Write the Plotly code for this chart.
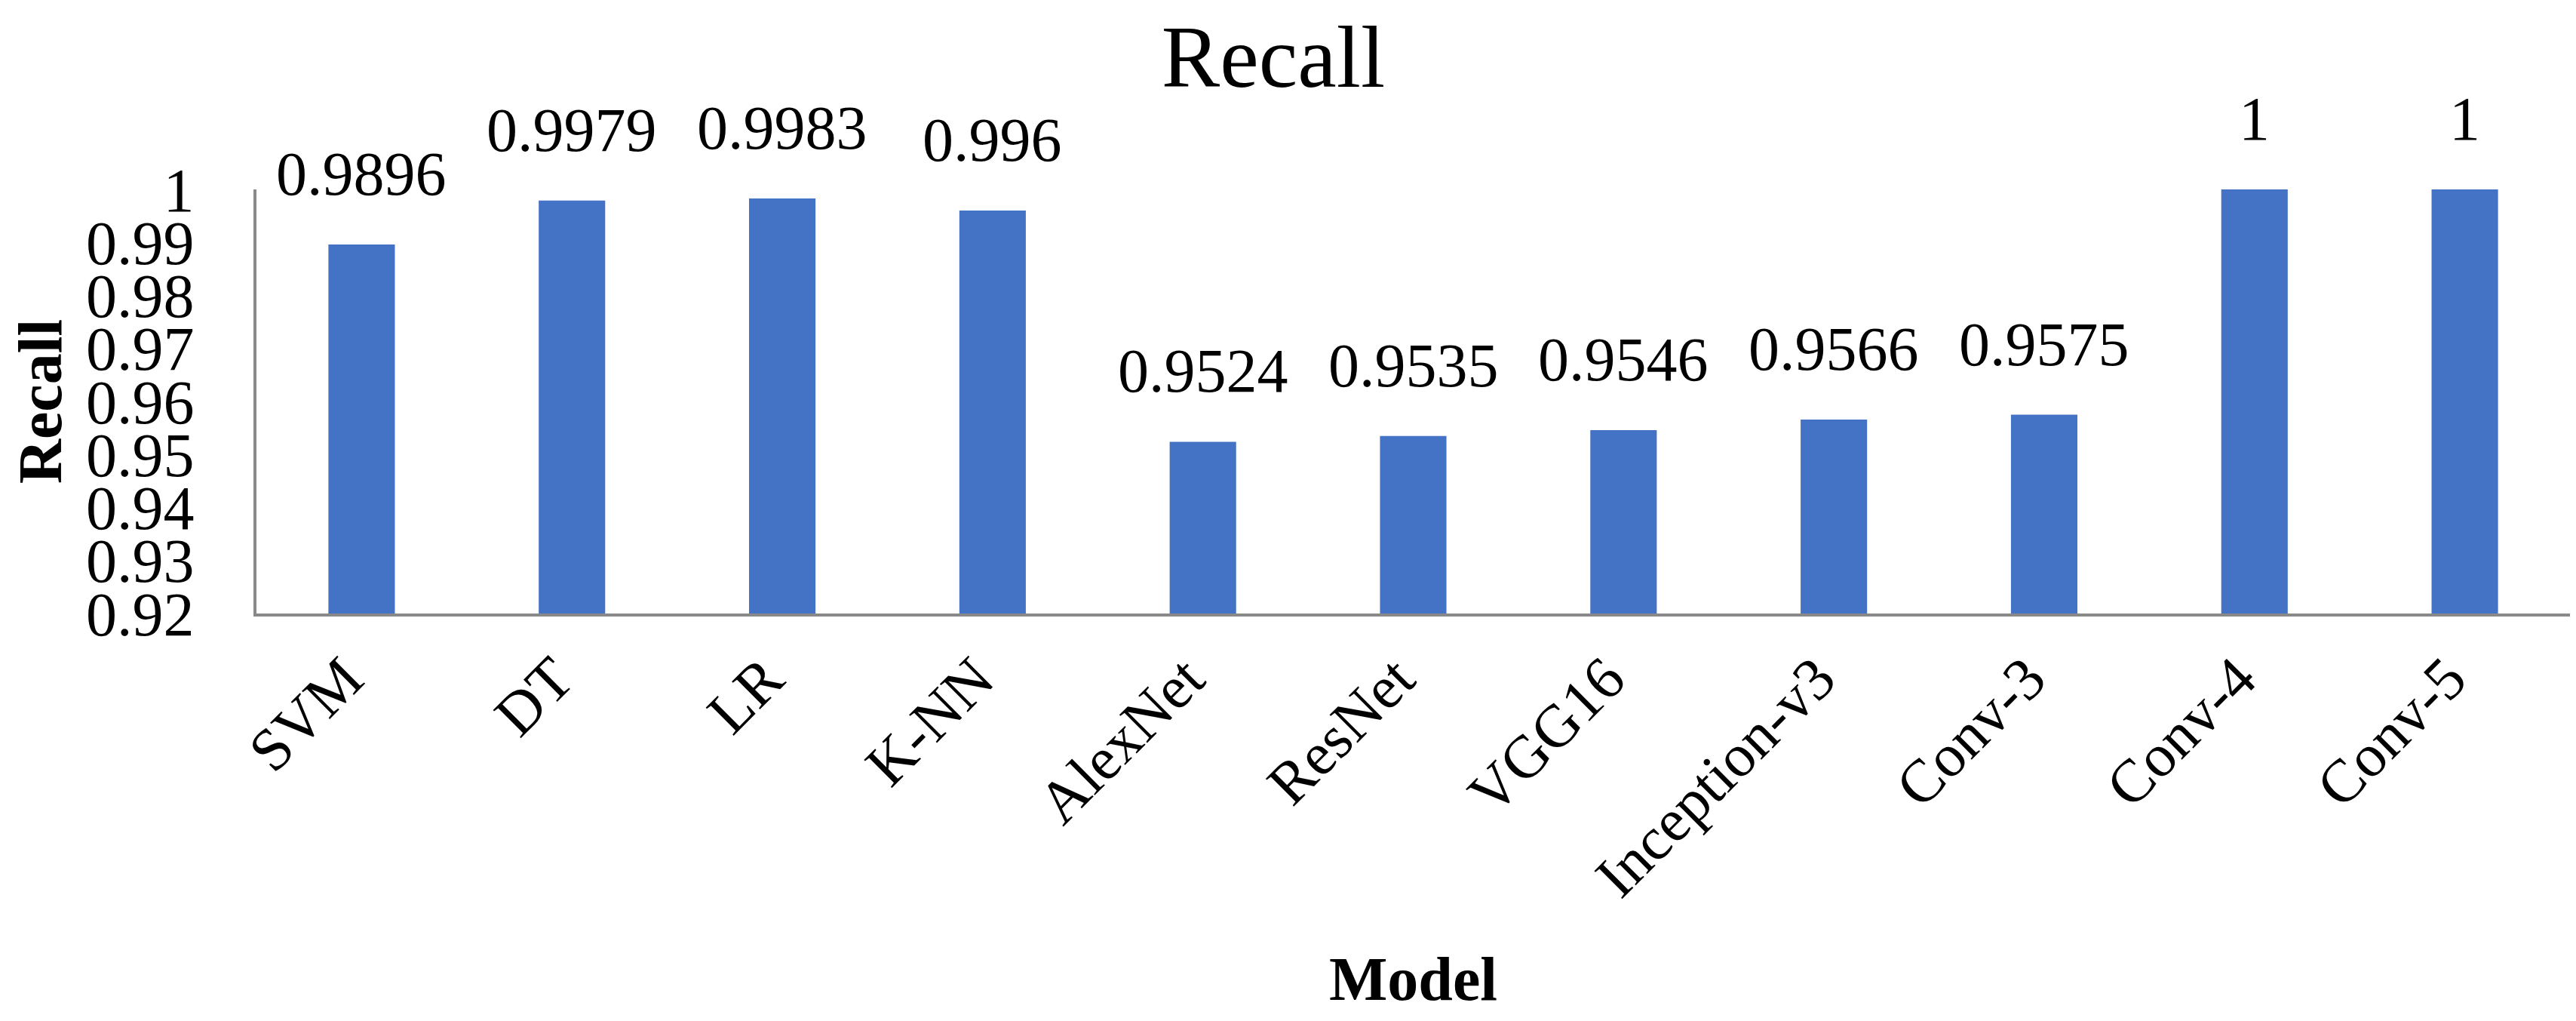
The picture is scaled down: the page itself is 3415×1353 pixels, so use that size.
import plotly.graph_objects as go

models = ["SVM", "DT", "LR", "K-NN", "AlexNet", "ResNet", "VGG16",
          "Inception-v3", "Conv-3", "Conv-4", "Conv-5"]
recall = [0.9896, 0.9979, 0.9983, 0.996, 0.9524, 0.9535, 0.9546,
          0.9566, 0.9575, 1, 1]
ytick_vals = [0.92, 0.93, 0.94, 0.95, 0.96, 0.97, 0.98, 0.99, 1.0]
ytick_text = ["0.92", "0.93", "0.94", "0.95", "0.96", "0.97", "0.98", "0.99", "1"]

FONT = "Liberation Serif, Times New Roman, serif"
BAR = "#4472C4"
AXIS = "#898989"

fig = go.Figure()
fig.add_trace(go.Bar(x=models, y=recall, marker=dict(color=BAR, line=dict(width=0)),
                     showlegend=False))

for m, v in zip(models, recall):
    fig.add_annotation(x=m, y=v, xref="x", yref="y", text=f"{v:g}",
                       showarrow=False, yanchor="bottom", yshift=46,
                       font=dict(family=FONT, size=82, color="black"))

fig.update_layout(
    width=3415, height=1353, autosize=False,
    margin=dict(l=332, r=16, t=243, b=548),
    paper_bgcolor="white", plot_bgcolor="white",
    bargap=0.684,
    font=dict(family=FONT, color="black"),
    title=dict(text="Recall", x=1680/3415, xanchor="center",
               y=1 - 66/1353, yanchor="middle", yref="container",
               font=dict(family=FONT, size=116, color="black")),
)
fig.update_yaxes(range=[0.92, 1.0], tickvals=ytick_vals, ticktext=ytick_text,
                 automargin=False,
                 showgrid=False, zeroline=False, showline=True, linecolor=AXIS,
                 linewidth=4, ticks="", ticklabelstandoff=62,
                 tickfont=dict(family=FONT, size=82, color="black"),
                 title=dict(text="<b>Recall</b>", standoff=72,
                            font=dict(family=FONT, size=82, color="black")))
fig.update_xaxes(automargin=False,
                 showgrid=False, zeroline=False, showline=True, linecolor=AXIS,
                 linewidth=4, ticks="", tickangle=-45, ticklabelstandoff=3,
                 ticklabelshift=-22,
                 tickfont=dict(family=FONT, size=80, color="black"),
                 title=dict(text="<b>Model</b>", standoff=64,
                            font=dict(family=FONT, size=82, color="black")))

fig.write_html("out.html")
